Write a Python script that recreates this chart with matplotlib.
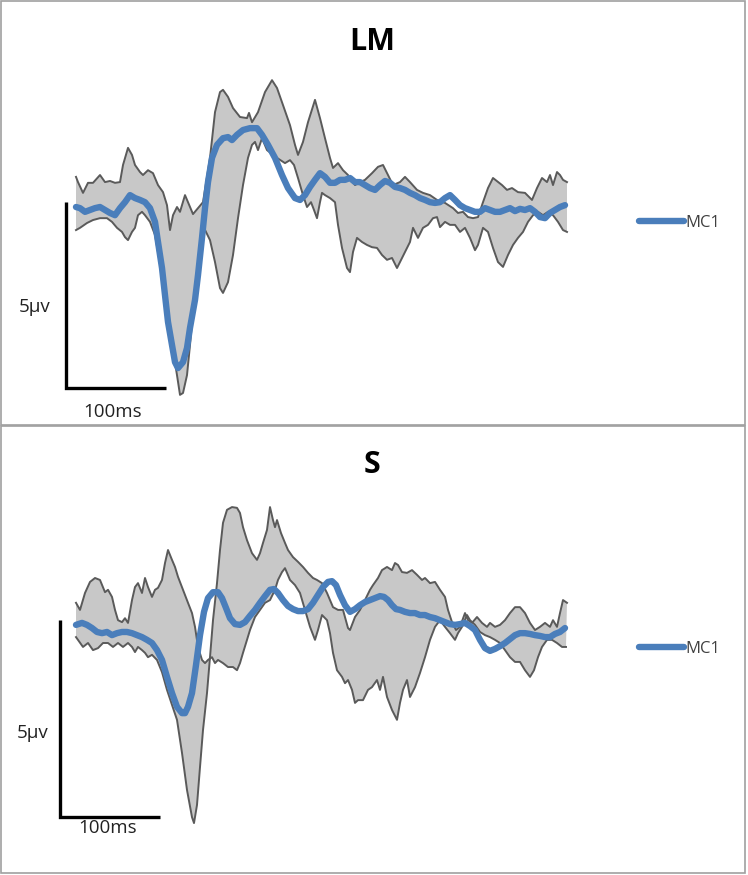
import numpy as np
import matplotlib
matplotlib.use('Agg')
import matplotlib.pyplot as plt
from matplotlib.patches import Rectangle

plt.rcParams['font.family'] = ['Open Sans', 'DejaVu Sans']

# ---- LM panel: (time ms, amplitude uV) ----
lm_upper = [(-100, 0.81), (-98, 0.67), (-93, 0.38), (-88, 0.65), (-83, 0.65), (-76, 0.86), (-71, 0.67),
            (-66, 0.70), (-61, 0.65), (-56, 0.67), (-53, 1.13), (-48, 1.59), (-44, 1.40), (-41, 1.13),
            (-36, 0.94), (-33, 0.86), (-28, 0.99), (-23, 0.91), (-18, 0.59), (-13, 0.40), (-9, 0.05),
            (-6, -0.62), (-3, -0.22), (1, 0.0), (4, -0.13), (9, 0.32), (12, 0.13), (17, -0.19), (22, -0.03),
            (27, 0.13), (34, 1.32), (39, 2.55), (44, 3.09), (47, 3.15), (52, 2.96), (57, 2.66), (64, 2.42),
            (71, 2.39), (73, 2.53), (76, 2.28), (82, 2.55), (89, 3.09), (96, 3.41), (101, 3.20), (107, 2.74),
            (114, 2.20), (119, 1.67), (122, 1.40), (127, 1.75), (132, 2.28), (139, 2.88), (144, 2.39),
            (149, 1.85), (154, 1.32), (157, 1.05), (162, 1.18), (167, 0.99), (172, 0.86), (179, 0.59),
            (184, 0.67), (189, 0.73), (196, 0.91), (202, 1.08), (207, 1.13), (212, 0.86), (217, 0.59),
            (224, 0.67), (229, 0.81), (234, 0.67), (241, 0.46), (247, 0.38), (254, 0.32), (261, 0.19),
            (269, 0.11), (277, -0.03), (282, -0.16), (287, -0.13), (292, -0.27), (297, -0.30), (302, -0.27),
            (307, 0.13), (312, 0.51), (317, 0.78), (326, 0.59), (331, 0.46), (336, 0.51), (342, 0.40),
            (349, 0.38), (356, 0.19), (361, 0.51), (366, 0.78), (371, 0.67), (374, 0.86), (377, 0.59),
            (381, 0.94), (384, 0.86), (387, 0.73), (391, 0.67)]

lm_lower = [(-100, -0.62), (-96, -0.56), (-89, -0.43), (-83, -0.35), (-76, -0.30), (-69, -0.30), (-64, -0.40),
            (-59, -0.56), (-54, -0.67), (-51, -0.81), (-48, -0.89), (-44, -0.67), (-41, -0.56), (-38, -0.22),
            (-34, -0.13), (-31, -0.22), (-26, -0.40), (-21, -0.75), (-18, -1.21), (-13, -2.02), (-8, -3.10),
            (-3, -3.85), (1, -4.52), (4, -5.05), (7, -5.00), (11, -4.52), (14, -3.71), (17, -2.80),
            (22, -1.75), (26, -0.89), (28, -0.56), (34, -0.89), (39, -1.48), (44, -2.18), (47, -2.31),
            (52, -2.02), (57, -1.29), (62, -0.30), (67, 0.59), (72, 1.32), (76, 1.67), (79, 1.75), (82, 1.53),
            (86, 1.85), (91, 1.53), (101, 1.32), (109, 1.18), (114, 1.26), (118, 1.13), (122, 0.78),
            (127, 0.32), (131, 0.0), (135, 0.13), (138, -0.08), (141, -0.30), (144, 0.13), (146, 0.38),
            (149, 0.32), (154, 0.24), (159, 0.13), (162, -0.48), (166, -1.10), (171, -1.64), (174, -1.75),
            (177, -1.21), (181, -0.83), (186, -0.94), (191, -1.02), (196, -1.08), (201, -1.10), (206, -1.29),
            (211, -1.42), (216, -1.37), (221, -1.64), (224, -1.48), (229, -1.21), (234, -0.94), (237, -0.56),
            (242, -0.83), (247, -0.56), (252, -0.48), (257, -0.30), (261, -0.27), (264, -0.54), (269, -0.40),
            (274, -0.48), (279, -0.48), (284, -0.67), (289, -0.56), (294, -0.83), (299, -1.16), (302, -1.02),
            (307, -0.56), (312, -0.67), (317, -1.10), (322, -1.48), (327, -1.61), (332, -1.29), (337, -1.02),
            (342, -0.83), (347, -0.67), (352, -0.40), (357, -0.22), (362, -0.13), (367, -0.22), (372, -0.13),
            (377, -0.22), (382, -0.40), (387, -0.62), (391, -0.67)]

lm_mc1 = [(-100, 0.0), (-96, -0.03), (-91, -0.13), (-86, -0.08), (-81, -0.03), (-76, 0.0), (-71, -0.08),
          (-66, -0.16), (-61, -0.22), (-56, -0.03), (-51, 0.13), (-46, 0.32), (-41, 0.24), (-36, 0.19),
          (-31, 0.13), (-26, -0.03), (-21, -0.40), (-18, -0.94), (-14, -1.64), (-11, -2.37), (-8, -3.09),
          (-4, -3.71), (-1, -4.17), (2, -4.33), (7, -4.17), (11, -3.79), (14, -3.25), (19, -2.50),
          (22, -1.83), (26, -0.83), (29, -0.03), (32, 0.67), (36, 1.32), (41, 1.67), (47, 1.85), (52, 1.88),
          (56, 1.80), (61, 1.94), (67, 2.07), (74, 2.12), (81, 2.12), (86, 1.94), (92, 1.67), (99, 1.32),
          (106, 0.86), (112, 0.51), (119, 0.24), (124, 0.19), (129, 0.32), (134, 0.54), (139, 0.73),
          (144, 0.91), (149, 0.81), (154, 0.65), (159, 0.65), (164, 0.73), (169, 0.73), (174, 0.78),
          (179, 0.67), (184, 0.67), (189, 0.59), (194, 0.51), (199, 0.46), (204, 0.59), (209, 0.70),
          (214, 0.65), (219, 0.54), (224, 0.51), (229, 0.46), (234, 0.38), (239, 0.32), (244, 0.24),
          (249, 0.19), (254, 0.13), (259, 0.11), (264, 0.13), (269, 0.24), (274, 0.32), (279, 0.19),
          (284, 0.05), (289, -0.03), (294, -0.08), (299, -0.13), (304, -0.13), (309, -0.03), (314, -0.08),
          (319, -0.13), (324, -0.13), (329, -0.08), (334, -0.03), (339, -0.11), (344, -0.05), (349, -0.08),
          (354, -0.03), (359, -0.13), (364, -0.27), (369, -0.30), (374, -0.16), (379, -0.08), (384, 0.0),
          (389, 0.05)]

# ---- S panel ----
s_upper = [(-100, 0.69), (-96, 0.51), (-91, 0.94), (-86, 1.22), (-81, 1.32), (-76, 1.27), (-71, 0.96),
           (-68, 1.02), (-64, 0.84), (-61, 0.51), (-58, 0.25), (-54, 0.20), (-51, 0.30), (-48, 0.18),
           (-44, 0.76), (-41, 1.09), (-38, 1.19), (-34, 0.94), (-31, 1.32), (-28, 1.09), (-24, 0.84),
           (-21, 1.02), (-18, 1.07), (-14, 1.27), (-11, 1.70), (-8, 2.03), (-4, 1.78), (-1, 1.60), (2, 1.35),
           (7, 1.02), (12, 0.69), (16, 0.43), (19, 0.08), (22, -0.43), (26, -0.76), (29, -0.84), (32, -0.76),
           (36, -0.69), (39, -0.84), (42, -0.76), (47, -0.84), (52, -0.94), (57, -0.94), (61, -1.02),
           (64, -0.84), (67, -0.58), (71, -0.25), (74, 0.0), (79, 0.33), (84, 0.51), (89, 0.69), (94, 0.76),
           (99, 1.02), (102, 1.27), (106, 1.47), (109, 1.57), (114, 1.27), (119, 1.14), (124, 0.94),
           (129, 0.51), (134, 0.08), (139, -0.25), (142, 0.0), (146, 0.38), (151, 0.25), (154, -0.08),
           (157, -0.58), (161, -1.02), (166, -1.19), (169, -1.35), (172, -1.27), (176, -1.52), (179, -1.85),
           (182, -1.78), (187, -1.78), (192, -1.52), (196, -1.45), (201, -1.27), (204, -1.52), (207, -1.19),
           (211, -1.70), (216, -2.03), (221, -2.28), (224, -1.85), (227, -1.52), (231, -1.27), (234, -1.70),
           (239, -1.45), (244, -1.09), (249, -0.69), (254, -0.25), (259, 0.08), (264, 0.25), (269, 0.08),
           (274, -0.08), (279, -0.25), (282, -0.08), (286, 0.08), (291, 0.38), (294, 0.25), (299, 0.13),
           (304, -0.05), (309, -0.13), (314, -0.18), (319, -0.25), (324, -0.33), (329, -0.51), (334, -0.69),
           (339, -0.81), (344, -0.81), (349, -1.02), (354, -1.19), (358, -1.02), (362, -0.69), (366, -0.43),
           (371, -0.25), (376, -0.25), (381, -0.33), (386, -0.43), (390, -0.43)]

s_lower = [(-100, -0.18), (-93, -0.43), (-88, -0.33), (-83, -0.51), (-78, -0.46), (-73, -0.33), (-68, -0.33),
           (-63, -0.43), (-58, -0.33), (-53, -0.43), (-48, -0.33), (-44, -0.43), (-41, -0.56), (-38, -0.43),
           (-34, -0.51), (-31, -0.58), (-28, -0.69), (-24, -0.63), (-19, -0.76), (-14, -1.07), (-9, -1.52),
           (-4, -1.90), (1, -2.28), (6, -3.12), (11, -4.06), (16, -4.75), (18, -4.90), (21, -4.44),
           (24, -3.48), (27, -2.54), (31, -1.60), (34, -0.69), (37, 0.25), (41, 1.19), (44, 2.03), (47, 2.72),
           (51, 3.05), (56, 3.12), (61, 3.10), (64, 2.97), (67, 2.61), (71, 2.28), (76, 1.95), (81, 1.78),
           (84, 1.95), (87, 2.21), (91, 2.54), (94, 3.12), (97, 2.79), (99, 2.61), (101, 2.79), (105, 2.46),
           (109, 2.21), (112, 2.03), (117, 1.85), (122, 1.73), (127, 1.60), (132, 1.45), (137, 1.32),
           (141, 1.27), (146, 1.19), (151, 0.94), (157, 0.58), (162, 0.51), (167, 0.51), (172, 0.05),
           (174, 0.0), (179, 0.33), (184, 0.51), (189, 0.76), (194, 1.02), (197, 1.14), (202, 1.32),
           (206, 1.52), (211, 1.60), (216, 1.52), (219, 1.70), (222, 1.65), (226, 1.47), (231, 1.45),
           (236, 1.52), (241, 1.40), (246, 1.27), (249, 1.32), (254, 1.19), (259, 1.22), (264, 1.02),
           (269, 0.84), (272, 0.51), (276, 0.20), (280, 0.0), (284, 0.08), (289, 0.43), (292, 0.25),
           (296, 0.18), (301, 0.33), (306, 0.18), (311, 0.08), (314, 0.18), (319, 0.08), (324, 0.13),
           (329, 0.25), (334, 0.43), (339, 0.58), (344, 0.58), (349, 0.43), (354, 0.18), (359, 0.0),
           (364, 0.08), (369, 0.18), (374, 0.08), (377, 0.25), (381, 0.08), (384, 0.43), (387, 0.76),
           (391, 0.69)]

s_mc1 = [(-100, 0.13), (-94, 0.18), (-89, 0.13), (-84, 0.05), (-79, -0.05), (-74, -0.08), (-69, -0.05),
         (-64, -0.13), (-59, -0.08), (-54, -0.05), (-49, -0.05), (-44, -0.08), (-39, -0.13), (-34, -0.18),
         (-29, -0.25), (-24, -0.33), (-19, -0.51), (-14, -0.76), (-9, -1.19), (-4, -1.60), (1, -1.95),
         (6, -2.11), (9, -2.11), (12, -1.95), (16, -1.60), (20, -0.89), (24, -0.13), (28, 0.46), (32, 0.81),
         (37, 0.96), (42, 0.96), (46, 0.81), (50, 0.56), (54, 0.30), (59, 0.15), (64, 0.13), (69, 0.20),
         (74, 0.36), (79, 0.51), (84, 0.69), (89, 0.86), (94, 1.02), (98, 1.04), (102, 0.94), (107, 0.76),
         (112, 0.61), (117, 0.53), (122, 0.48), (127, 0.48), (132, 0.53), (137, 0.69), (142, 0.89),
         (147, 1.09), (152, 1.22), (156, 1.24), (160, 1.14), (164, 0.89), (169, 0.63), (174, 0.46),
         (179, 0.53), (184, 0.63), (189, 0.71), (194, 0.76), (199, 0.81), (204, 0.86), (208, 0.84),
         (212, 0.76), (216, 0.63), (220, 0.53), (224, 0.51), (229, 0.46), (234, 0.43), (239, 0.43),
         (244, 0.38), (249, 0.38), (254, 0.33), (259, 0.30), (264, 0.25), (269, 0.20), (274, 0.15),
         (279, 0.13), (284, 0.15), (289, 0.18), (294, 0.10), (299, 0.0), (304, -0.25), (309, -0.46),
         (314, -0.53), (319, -0.48), (324, -0.41), (329, -0.33), (334, -0.23), (339, -0.13), (344, -0.08),
         (349, -0.08), (354, -0.10), (359, -0.13), (364, -0.15), (369, -0.18), (374, -0.18), (379, -0.10),
         (384, -0.05), (389, 0.05)]

BLUE = '#4a7ebb'
EDGE = '#5a5a5a'
FILL = '#c8c8c8'

W, H = 748, 875
fig = plt.figure(figsize=(W / 100, H / 100), dpi=100)


def draw_panel(ax, upper, lower, mc1, ylim, bar, legend_y):
    up = np.array(upper)
    lo = np.array(lower)
    mc = np.array(mc1)
    ax.fill(np.concatenate([up[:, 0], lo[::-1, 0]]), np.concatenate([up[:, 1], lo[::-1, 1]]),
            color=FILL, lw=0, zorder=1)
    ax.plot(up[:, 0], up[:, 1], color=EDGE, lw=1.4, zorder=2)
    ax.plot(lo[:, 0], lo[:, 1], color=EDGE, lw=1.4, zorder=2)
    line, = ax.plot(mc[:, 0], mc[:, 1], color=BLUE, lw=4.6, label='MC1', zorder=3,
                    solid_capstyle='round', solid_joinstyle='round')
    # 100 ms / 5 uV scale bar
    bx, by = bar
    ax.plot([bx, bx, bx + 100], [by + 5, by, by], color='black', lw=2.4, zorder=3,
            solid_joinstyle='miter', solid_capstyle='butt')
    ax.set_xlim(-176, 572)
    ax.set_ylim(*ylim)
    ax.axis('off')
    leg = ax.legend(handles=[line], loc='center left', bbox_to_anchor=(639 / W, legend_y),
                    frameon=False, borderpad=0, borderaxespad=0, handlelength=2.7,
                    handletextpad=0.1, fontsize=12)
    for t in leg.get_texts():
        t.set_color('#404040')


ax_top = fig.add_axes([0, 450 / H, 1, 425 / H])
draw_panel(ax_top, lm_upper, lm_lower, lm_mc1, (-5.860, 5.565), (-110, -4.87), 0.475)

ax_bot = fig.add_axes([0, 0, 1, 450 / H])
draw_panel(ax_bot, s_upper, s_lower, s_mc1, (-6.218, 5.203), (-116, -4.75), 0.502)

# panel frames
for y0, y1 in [(1, 425), (426, 873)]:
    fig.add_artist(Rectangle((1 / W, 1 - y1 / H), 744 / W, (y1 - y0) / H, transform=fig.transFigure,
                             fill=False, edgecolor='#a0a0a0', lw=1.2))

fig.text(372 / W, 1 - 42 / H, 'LM', ha='center', va='center', fontsize=22, fontweight='bold')
fig.text(372 / W, 1 - 465 / H, 'S', ha='center', va='center', fontsize=22, fontweight='bold')

fig.text(35 / W, 1 - 307 / H, '5μv', ha='center', va='center', fontsize=13.5, color='#222222')
fig.text(113 / W, 1 - 412 / H, '100ms', ha='center', va='center', fontsize=13.5, color='#222222')
fig.text(33 / W, 1 - 733 / H, '5μv', ha='center', va='center', fontsize=13.5, color='#222222')
fig.text(108 / W, 1 - 828 / H, '100ms', ha='center', va='center', fontsize=13.5, color='#222222')

fig.savefig('out.png', dpi=100, facecolor='white')
